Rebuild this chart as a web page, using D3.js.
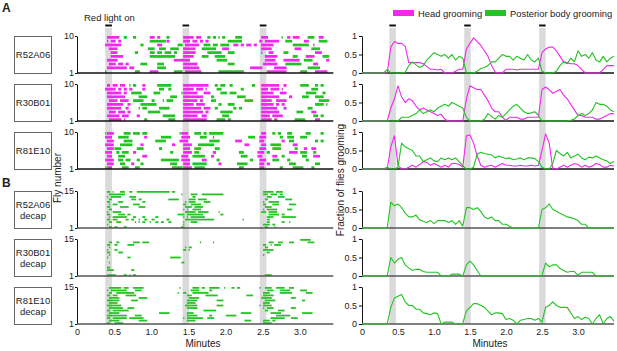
<!DOCTYPE html>
<html>
<head>
<meta charset="utf-8">
<script src="https://cdn.jsdelivr.net/npm/d3@7"></script>
<style>
body { margin: 0; background: #fff; }
text { font-family: Arial, "Liberation Sans", sans-serif; fill: #222; }
</style>
</head>
<body>
<svg id="chart" width="617" height="351"></svg>
<script>
// light-on periods, in minutes
const lightOn = [[0.38, 0.47], [1.42, 1.51], [2.46, 2.55]];
const xTicks = [0, 0.5, 1.0, 1.5, 2.0, 2.5, 3.0];
const xTickLabels = ["0", "0.5", "1.0", "1.5", "2.0", "2.5", "3.0"];
const fracTicks = [0, 0.5, 1];
const fracTickLabels = ["0", "0.5", "1"];
const lineNames = [["R52A06"], ["R30B01"], ["R81E10"], ["R52A06", "decap"], ["R30B01", "decap"], ["R81E10", "decap"]];
const legendItems = ["Head grooming", "Posterior body grooming"];

// ethograms: one string per fly, top fly first. each block of 20 chars = 0.5 min (bins of 0.025 min)
// h = head grooming, p = posterior grooming, . = nothing
const binSize = 0.025;
const rasterA1 = [
  "................hhhh hhh..pp...pp.......h hh.hh...pp.......hhh hhh.hhh...pp.pp.p.pp .....pppp..........h hhh.......p..hh.hhhh ....pppp..hhh.......",
  "................h.hh h.hh...............p pppppppphh.......hhh h.hhh.hh.hh......... .pppppppp.........hh .hhhhhhhh...pppp.... ..hhh.....ppppp.....",
  "...............hhhhh hhhh..........pp.... ...hhh........ppp.hh hhhhhh..pppp.ppp.ppp pp..hhh.hh.hhh.hh..h hhhhhh..........pppp ppppp..h............",
  ".................hhh hh................pp pp..pppp..ppppp..hhh hhhh...pppppppp...hh hh.................h hhhhh............hhh h.....ppppp.........",
  "..................hh hh.........pp......p pp.ppp.pppp.pp...hhh hhhh......pppppppp.. .pppp..............h ...hhh.....ppp...... ........hhhh........",
  "..................hh hhhhh..............p ppppppppppppp....hhh hhh....pppp...pppppp .................... .hhhhhhh........ppp. ...hhhhh....pppp....",
  "................hhhh hh.................. ............hhhhhhhh h..............ppppp p................... .hhhhhh....hhhhhhhhh ..ppppp.......hh....",
  ".................hhh h.hhh.hh......pppp.. ...pppp..........hhh hhhhh............... .pppp............... hhhhhhhh....pppppppp p......hhh..........",
  "................hhhh hhhhhhh.hhh......... ...ppppp.........hhh hhhhhh.............. .............hhhhhhh ......hhhhhhh....... ....ppppppp.........",
  "...............p.... ...........ppp.....h hhhh........ppppp.hh hhhhhhh.........pppp pppppppppp.......... ..hhhhhhhhhhh....... pppp....hhhhhhh....."
];
const rasterA2 = [
  "................hh.h hh.hhh..p.pp...hh... ...pppppppp......hhh hhhhhhhhhhh...pp.ppp ..pp..........pp...h hhhhhhhhh..hh....... ppppp...pp.pp.......",
  "...............hhhhh h.hh.hh.hh.....hh... ....ppp..pp......hhh hhh.hhhh.h.....ppp.. ........pp.........h hhh.hhhhh.h......... ......pppp..........",
  "................hhhh hhhh.hh..pppppp..... .pppp...........phhh hhhhh...hhhh.....ppp p.pppp.............h hhhhhh...hhhh....... ...pppppp...pp......",
  "................hhhh hhhhhh.......ppppp.. ..........pppp...hhh hhhhhhhh....pp...... ......ppppp........h hhhhhhhhh.....hh.... .pppp...ppppp.......",
  ".................hhh hh.hhhhh..pppppp.... pp....p.pppp.....hhh hhhhh.hh....ppp..... ..........ppppp....h hhhhh..hhhhhh....... ..........pppppp....",
  "................hhhh hhhhh..hh.....pppppp ppp..............hhh hhh.hhhhh.......pp.. .pppp..............h hhhhhh.hh.hh........ ........ppppp.p.....",
  "................hhhh hhhh..hh.....p.ppp.. ....pppppp.......hhh hhhhhhh.hhhh..pp.... ....pp.pp..........h hhhhhhhh...hh....... ....ppp.............",
  ".................hhh h.hhhh.hh.........pp ppppp............hhh hhhhhhhh.hh......ppp pppp...............h hhhhhhhhh.........pp pp....hhh...........",
  "................hhhh hhh.hhhh....hh...... ......ppppppp....hhh hhhhh..hhh........pp pp.................h hhhh.hhhhhh......... .......ppp.pp.......",
  ".................hhh hhhh.h..........pp.. .........pppp....hhh hhhhhhhhhh.....ppppp .pp................h hhhhh.hh.........ppp ppp.....hhh........."
];
const rasterA3 = [
  "...............phhhh .....pppp.pppp.ppp.. ...............phhhh ...pppp.pp.pppppppp. ...................h hh...pp.pp...ppp.... ...ppp.....pp.......",
  "...............hhhh. ..pppppp........hh.. .....pppppp.....hhhh h.....pppp...h...... ............pppp..hh hh.......pp..pppp... pppp................",
  "................hhhh .....ppppp.......... ..pppppp.......hhhhh ...........pppppp... .....hhhh.........hh h.........hh..ppp... ........pp.pp.......",
  "...............hhhhh ...ppppppp....hh.... ...........hh....hhh hh...ppppppppp...... ..........hhh......h hh..pppppp......hhh. ....................",
  "................hhhh pppp........pppp.... ....pp...........hhh h..pppp.......ppp... ..................hh hh...ppppp.......pp. ..hh..hhh...........",
  "...............hhhh. .pp.pppp..hh........ ..........pp.....hhh hh.ppp.......hh..... .......ppp.......hhh h.pp..........hhhhh. pppp...pp...........",
  "................hhh. ..pppp.........hhh.. ................hhhh ..ppppppp...hh...... ........pppp.....hhh .....hhh..pp........ .ppp...hhhh.........",
  "...............hhhhh ..ppp.ppp...pp...... .....pppppppppp.hhhh h......hhh.....pp... .............pp...hh hh...pppp....pp..... ...pp...............",
  "................hhhh ...ppp...hh...pp.... ..........pppp...hhh h.pppppppp......hh.. ......pppppp......hh h.hh..........pppp.. ........ppp.........",
  "...............phhh. ....pppp...ppp...... ...........pppppphhh hh.pppppp........... .......ppp........hh h........pp.....pppp pp....pp............"
];
const rasterB1 = [
  "................pp.p ...ppp..pp..pppppppp pppppppppp.pp....... .................... .................... pppppp.pppp......... ....................",
  ".................ppp pppppp.............. ................p... .pppp..pppppppppppp. .................... ppp.pppp.pp......... ....................",
  "................p.pp pppp....pppp........ .................... ..pp................ .................... ..ppp...pppp........ ....................",
  ".................pp. .........ppp.pp..... .........pppppp..... pppp.ppppp.......... .................... .pp.........pppp.... ....................",
  "................pp.. ..ppp..........pp... ..................p. pppp....pppp........ .................... p..pppppp........... ....................",
  ".................p.p pp........pppp...... .................pp. .pppppp............. .................... pp...pppp.....pppp.. ....................",
  "................pp.. ...ppppp.....pppp... ..................pp pp.ppppp............ .................... .pppp............... ....................",
  ".................pp. .................... .................p.p ..ppppp............. .................... p.pppppp.....ppp.... ....................",
  "................p..p pppp................ ..................pp pppp.pppppp.....p... ...................p pp.ppppp............ ....................",
  "................pp.. ..pppp.pp........... ..............pppp.p pppppppp.........pp. .................... ...pppppp.pp........ ....................",
  ".................p.p ppppppp...pp...pp... ..pp.............p.p .pppppppp........... .................... ..pppp....pppppppp.. ....................",
  "................pp.p pp....pp.pp..p..pp.. pp......pp........pp pppppppppppppp...... .........p.......... ..pp................ ....................",
  ".................pp. .ppp.......p.p.pp..p ..pp.pp..pp......p.. .pppp............... .................... ..pp......pp..p..... ....................",
  "................p... .................... .................p.. .................... .................... pppp.pp............. ....................",
  ".................pp. pp...pp............. ................pp.. .................... .................... .pp...p............. ...................."
];
const rasterB2 = [
  ".................... .................... .................... .................... .................... .................... pppppp..............",
  ".................pp. .pp.......pppp.pppp. .................... ......p......p...... .................... ...ppp..ppp...ppp... ....pppp............",
  "................pp.. pp.....pppp......... .................... .................... .................... pp..p.pppp.......... ....................",
  ".................p.. .................... ..................p. pp.................. .................... .pp................. ....................",
  "................p... pp.................. .................pp. p................... .................... pppppp.............. ....................",
  "................pp.. ..ppp............... .................... .................... .................... ..pp................ ....................",
  ".................p.. .................... .................... .................... .................... p................... ....................",
  "................p... .......pp........... ..........pppppp.... .................... .................... .................... ....................",
  "",
  ".................p.. .................... ................pp.. .................... .................... .................... ....................",
  "",
  "................pp.. .................... .................... .................... .................... .................... ....................",
  "................pppp .........pp......... .................... .................... .................... .................... ....................",
  "",
  "................pppp p....pp.p.pp........ .................... .................... .................... .pppp............... ...................."
];
const rasterB3 = [
  ".................ppp pppp.ppp..pppppp.... ...............p.... ..pppp.pp..pppppp..p ...pp.pp..........p. .pppp..ppppp..ppp... ....................",
  "................p.pp ppppppp....pppp..... .................... .ppppp.....pp....... .................... ..pppp...pppppp..... pppp................",
  ".................pp. .pppppppppp......... ..............p..pp. ..ppppppppp......... .................... pppp.....ppppppp.... ...pppp.............",
  "................pp.p pp....pppppp........ ...................p pp.......ppppppp.... ...........pppp..... pppppp.............. ....................",
  ".................ppp ppp..........ppppp.. .................... pppppp.............. ...................p ppppp..........ppp.. ....................",
  "................pppp ppp......pppp....... ...................p ppppp..........pppp. .................... .pppppp............. .pp.................",
  ".................ppp pp.................. ...................p pppp................ .................... pppp................ ....................",
  "................pppp pppp................ ..................pp ppppp..........pppp. ..................p. ppppp............... ....................",
  ".................ppp ppppp..pppp......... ...................p ppppp............... .................... p.pppp.........ppp.. ....................",
  "................pp.p pppppppp............ .................... ........ppppppp..... .................... .pp.....pppp........ ....................",
  ".................ppp ppp................. ....pppppp.........p ppp................. ........pppppp...... ....pppppp.......... .pppppp.............",
  "................pppp ppppppp....pppp..... ...................p ppppp......pp....... pppppp.............. .......pppppppp..... ....................",
  "................pp.p ppppppp.pppppppp.... .................p.p pppppppp..pppp...... .................... ....pppppppp...pppp. ....................",
  ".................ppp ppp..........ppppp.. ...................p pppp................ ..........pppp...... pppp.pp............. ....................",
  "................pp.. ppppp............... .................... .................... .................... ppppp............... ...................."
];

// fraction of flies grooming, sampled every 0.05 min from 0 to 3.5
const fracStep = 0.05;
const headA1 = [0,0,0,0,0,0,0,0, 0.7,0.85,0.8,0.8,0.72, 0.28,0.28,0.28,0.28,0.25,0.18, 0.1,0.1,0.08,0.1,
  0,0,0,0.05,0.1,0.1, 0.65,0.8,0.95,0.85,0.75,0.6,0.45,0.2,0.02,0,0, 0.1,0.1,0.1,0.08,0.1,0.1,0.1,0.1,0.1,0.1,
  0.55,0.65,0.7,0.7,0.6,0.45,0.3,0.28,0.25,0.25,0.2,0.1, 0,0,0,0,0, 0.1,0.2,0.2,0.2];
const postA1 = [0,0,0,0,0,0,0, 0.1, 0,0,0,0, 0.02, 0.2,0.3,0.22,0.15,0.2,0.35,0.45,0.55,0.5,0.45,0.5,0.4,0.5,0.35,0.45,0.4,
  0,0,0, 0.05,0.12,0.15,0.2,0.3,0.3,0.4,0.5,0.45,0.45,0.35,0.45,0.4,0.35,0.5,0.35,0.3,0.4,
  0.05,0,0,0, 0.05,0.2,0.3,0.25,0.4,0.3,0.6,0.45,0.5,0.4,0.55,0.35,0.3,0.45,0.3,0.4,0.45];
const headA2 = [0,0,0,0,0,0,0,0, 0.35,0.6,0.95,0.65,0.5,0.6,0.55,0.4,0.3,0.35,0.3,0.25,0.2,0.15,0.18,0.05, 0,0,0,0,0,
  0.6,0.95,0.9,0.85,0.85,0.7,0.55,0.35,0.25,0.25,0.1,0.02,0.1,0.1,0.1,0.05,0.05,0.1,0.1,0.1,0.1,
  0.85,0.92,0.85,0.75,0.8,0.85,0.7,0.6,0.45,0.3,0.15,0.15,0.1,0.1,0.1,0.05,0.05,0.1,0.15,0.2,0.2];
const postA2 = [0,0,0,0,0,0,0,0,0,0,0, 0.1,0.1,0.1,0.15,0.2,0.3,0.2,0.25,0.3,0.25,0.35,0.4,0.45,0.4,0.5,0.45,0.4,0.35,0.1,
  0,0,0,0, 0.05,0.2,0.12,0.05,0.15,0.1,0.2,0.3,0.4,0.45,0.35,0.25,0.2,0.22,0.25,0.15,
  0,0,0,0,0,0,0,0, 0.02,0.05,0.15,0.2,0.15,0.2,0.3,0.5,0.45,0.45,0.4,0.3,0.25];
const headA3 = [0,0,0,0,0,0,0,0, 0.6,0.9,0.1,0,0,0.05,0.1,0.05,0.12,0.2,0.18,0.1,0.15,0.1,0.05,0.1,0.05,0.15,0.15,0.12,0.05,
  0.9,0.92,0.7,0.35,0.1,0.05,0.08,0.1,0.05,0.1,0.15,0.1,0.1,0.08,0.08,0.1,0.08,0.08,0.1,0.08,0.1,
  0.5,0.95,0.7,0,0,0.05,0.1,0.05,0.1,0.15,0.12,0.05,0.1,0.05,0.08,0.15,0.12,0.05,0.05,0.1,0.08];
const postA3 = [0,0,0,0,0,0,0, 0.05, 0,0, 0.05,0.7,0.6,0.55,0.5,0.35,0.35,0.2,0.25,0.3,0.22,0.2,0.3,0.25,0.3,0.25,0.3,0.2,0.08,
  0,0,0.05, 0.4,0.45,0.42,0.4,0.38,0.3,0.35,0.32,0.28,0.3,0.25,0.27,0.3,0.25,0.3,0.3,0.28,0.2,
  0.05,0,0, 0.15,0.5,0.42,0.35,0.45,0.3,0.35,0.4,0.3,0.25,0.32,0.3,0.35,0.3,0.25,0.22,0.15,0.2];
const postB1 = [0,0,0,0,0,0,0,0, 0.7,0.6,0.65,0.55,0.4,0.3,0.3,0.35,0.22,0.18,0.15,0.2,0.12,0.2,0.2,0.2,0.15,0.2,0.1,0.2,0.05,
  0.55,0.55,0.5,0.55,0.45,0.3,0.25,0.3,0.2,0.2,0.1,0.1,0.05, 0,0,0,0,0,0,0,0,
  0.5,0.55,0.65,0.5,0.45,0.4,0.35,0.3,0.28,0.25,0.2,0.1,0.1, 0,0,0,0,0,0,0,0];
const postB2 = [0,0,0,0,0,0,0,0, 0.5,0.35,0.45,0.5,0.3,0.22,0.15,0.18,0.18,0.12,0.1,0.1,0.1,0.1, 0,0,0, 0.05,0.05,0.05, 0,
  0.3,0.4,0.3,0.15, 0,0,0,0,0,0,0,0,0,0,0,0,0,0,0,0,0,
  0.02,0.35,0.25,0.3,0.3,0.2,0.15,0.1,0.12,0.12,0.02,0.1,0.1,0.1,0.1, 0,0,0,0,0,0];
const postB3 = [0,0,0,0,0,0,0,0, 0.45,0.7,0.75,0.8,0.6,0.5,0.5,0.4,0.4,0.3,0.28,0.25,0.3,0.28, 0,0.05,0.05,0.05,0,0,0.02,
  0.35,0.45,0.55,0.55,0.5,0.45,0.35,0.25,0.3,0.3,0.28,0.12,0.15,0.1,0,0.1,0.12,0.15,0.15,0.1,0.15,
  0.05,0.45,0.5,0.6,0.5,0.45,0.45,0.45,0.3,0.15,0.2,0.12,0.18,0.15,0,0.15,0.25,0,0.15,0.2,0.08];

const colors = { h: "#f028f0", p: "#22c322" };
const svg = d3.select("#chart");
const panelH = 37;
const xL = d3.scaleLinear().domain([0, 3.45]).range([77, 333.3]);
const xR = d3.scaleLinear().domain([0, 3.5]).range([362, 614]);

const panels = [
  { raster: rasterA1, head: headA1, post: postA1, top: 36, axis: "#111", pad: 0.28 },
  { raster: rasterA2, head: headA2, post: postA2, top: 84, axis: "#111", pad: 0.28 },
  { raster: rasterA3, head: headA3, post: postA3, top: 132, axis: "#111", pad: 0.28 },
  { raster: rasterB1, head: null, post: postB1, top: 191, axis: "#555", pad: 0.3 },
  { raster: rasterB2, head: null, post: postB2, top: 239, axis: "#555", pad: 0.3 },
  { raster: rasterB3, head: null, post: postB3, top: 287, axis: "#555", pad: 0.3 }
];

// grey light-on bands and black markers above them
[xL, xR].forEach(x => {
  svg.append("g").selectAll("rect").data(lightOn).join("rect")
    .attr("x", d => x(d[0])).attr("y", 28)
    .attr("width", d => x(d[1]) - x(d[0])).attr("height", 296)
    .attr("fill", "#dadada");
  svg.append("g").selectAll("rect").data(lightOn).join("rect")
    .attr("x", d => x(d[0])).attr("y", 24.5)
    .attr("width", d => x(d[1]) - x(d[0])).attr("height", 2)
    .attr("fill", "#111");
});

function boutsOf(rows) {
  const out = [];
  rows.forEach((row, r) => {
    const bins = [];
    row.split(" ").forEach((grp, g) => grp.split("").forEach((c, j) => bins[g * 20 + j] = c));
    let start = null;
    for (let k = 0; k <= bins.length; k++) {
      const c = bins[k];
      if (start !== null && c !== bins[start]) {
        out.push({ row: r, type: bins[start], t0: start * binSize, t1: k * binSize });
        start = null;
      }
      if (start === null && (c === "h" || c === "p")) start = k;
    }
  });
  return out;
}

function styleAxis(g) {
  g.selectAll("text").attr("font-size", 9).attr("font-family", "Arial, 'Liberation Sans', sans-serif").attr("fill", "#222");
  g.selectAll("line,path").attr("stroke", "#111");
}

panels.forEach((p, i) => {
  const bottom = p.top + panelH;
  const n = p.raster.length;

  // name box
  svg.append("rect").attr("x", 14.5).attr("y", p.top + 0.5).attr("width", 37).attr("height", panelH)
    .attr("fill", "#fff").attr("stroke", "#666").attr("stroke-width", 1);
  const nm = lineNames[i];
  nm.forEach((s, k) => {
    svg.append("text").attr("x", 33).attr("y", p.top + panelH / 2 + 3.5 + (k - (nm.length - 1) / 2) * 11)
      .attr("text-anchor", "middle").attr("font-size", 9.5).text(s);
  });

  // ethogram
  const yb = d3.scaleBand().domain(d3.range(n)).range([p.top, bottom]).paddingInner(p.pad);
  svg.append("g").selectAll("rect").data(boutsOf(p.raster)).join("rect")
    .attr("x", d => xL(d.t0) + 0.3).attr("width", d => Math.max(0.9, xL(d.t1) - xL(d.t0) - 0.6))
    .attr("y", d => yb(d.row)).attr("height", yb.bandwidth())
    .attr("fill", d => colors[d.type]);

  const yFly = d3.scaleLinear().domain([1, n]).range([bottom, p.top]);
  svg.append("g").attr("transform", `translate(${xL(0)},0)`)
    .call(d3.axisLeft(yFly).tickValues([1, n]).tickSize(2).tickSizeOuter(0).tickPadding(1))
    .call(styleAxis);
  svg.append("line").attr("x1", xL(0)).attr("x2", xL(3.45)).attr("y1", bottom).attr("y2", bottom)
    .attr("stroke", p.axis).attr("stroke-width", 1.6);

  // fraction grooming
  const yR = d3.scaleLinear().domain([0, 1]).range([bottom, p.top]);
  svg.append("g").attr("transform", `translate(${xR(0)},0)`)
    .call(d3.axisLeft(yR).tickValues(fracTicks).tickFormat((d, k) => fracTickLabels[k]).tickSize(3).tickSizeOuter(0).tickPadding(2))
    .call(styleAxis);
  svg.append("line").attr("x1", xR(0)).attr("x2", xR(3.5)).attr("y1", bottom).attr("y2", bottom)
    .attr("stroke", p.axis).attr("stroke-width", 1.6);
  const line = d3.line().x((d, k) => xR(k * fracStep)).y(d => yR(d));
  if (p.head) {
    svg.append("path").datum(p.head).attr("d", line).attr("fill", "none")
      .attr("stroke", colors.h).attr("stroke-width", 1.1).attr("stroke-linejoin", "round");
  }
  svg.append("path").datum(p.post).attr("d", line).attr("fill", "none")
    .attr("stroke", colors.p).attr("stroke-width", 1.1).attr("stroke-linejoin", "round");
});

// x tick labels under the bottom panels
[xL, xR].forEach(x => {
  svg.append("g").attr("transform", "translate(0,324)")
    .call(d3.axisBottom(x).tickValues(xTicks).tickFormat((d, k) => xTickLabels[k]).tickSize(0).tickPadding(5))
    .call(g => g.select(".domain").remove())
    .call(styleAxis);
});

svg.append("text").attr("x", 203).attr("y", 347).attr("text-anchor", "middle").attr("font-size", 10).text("Minutes");
svg.append("text").attr("x", 490).attr("y", 347).attr("text-anchor", "middle").attr("font-size", 10).text("Minutes");
svg.append("text").attr("transform", "translate(61,178) rotate(-90)").attr("text-anchor", "middle")
  .attr("font-size", 10).text("Fly number");
svg.append("text").attr("transform", "translate(344,180) rotate(-90)").attr("text-anchor", "middle")
  .attr("font-size", 10).text("Fraction of flies grooming");

svg.append("text").attr("x", 2).attr("y", 12).attr("font-size", 12).attr("font-weight", "bold").text("A");
svg.append("text").attr("x", 2).attr("y", 187).attr("font-size", 12).attr("font-weight", "bold").text("B");
svg.append("text").attr("x", 84).attr("y", 21).attr("font-size", 9.5).text("Red light on");

// legend
const legendX = [393, 485];
legendItems.forEach((s, k) => {
  svg.append("rect").attr("x", legendX[k]).attr("y", 10).attr("width", 21).attr("height", 6)
    .attr("fill", k === 0 ? colors.h : colors.p);
  svg.append("text").attr("x", legendX[k] + 25).attr("y", 17).attr("font-size", 9.4).text(s);
});
</script>
</body>
</html>
